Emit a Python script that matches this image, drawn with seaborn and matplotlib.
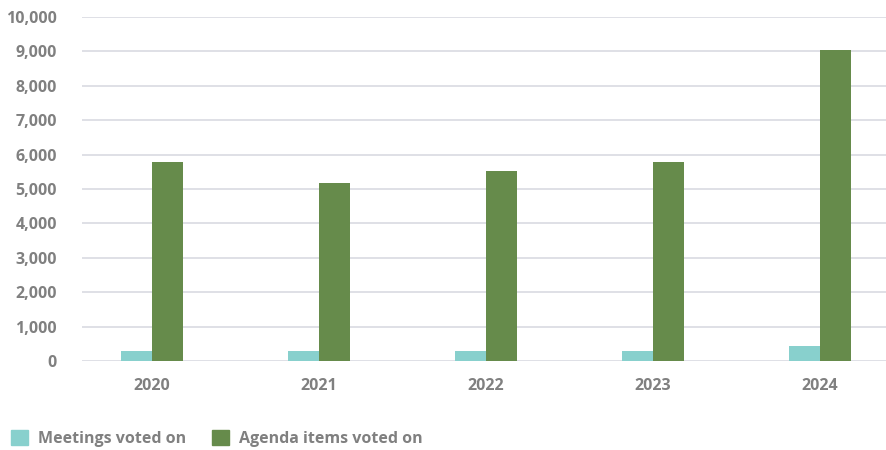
import matplotlib.pyplot as plt
import pandas as pd
import seaborn as sns
from matplotlib.patches import Patch
from matplotlib.ticker import FuncFormatter

years = ["2020", "2021", "2022", "2023", "2024"]
meetings = [280, 280, 280, 280, 450]
agenda_items = [5790, 5170, 5530, 5790, 9040]
series_names = ["Meetings voted on", "Agenda items voted on"]
colors = ["#88d0cd", "#668b4b"]

df = pd.DataFrame({
    "year": years * 2,
    "value": meetings + agenda_items,
    "series": [series_names[0]] * len(years) + [series_names[1]] * len(years),
})

sns.set_theme(style="white")
plt.rcParams["font.family"] = ["Open Sans", "DejaVu Sans"]

fig = plt.figure(figsize=(8.86, 4.5), dpi=100)
ax = fig.add_axes([82 / 886, 1 - 361 / 450, (886 - 82) / 886, (361 - 17) / 450])

sns.barplot(data=df, x="year", y="value", hue="series", palette=colors,
            width=0.37, saturation=1, linewidth=0, ax=ax, legend=False)

ax.set_ylim(0, 10000)
ax.set_xlim(-0.42, 4.395)
ax.set_yticks(range(0, 10001, 1000))
ax.yaxis.set_major_formatter(FuncFormatter(lambda v, _: f"{int(v):,}"))
ax.grid(axis="y", color="#d9dae2", linewidth=1.2)
ax.set_axisbelow(True)
for s in ax.spines.values():
    s.set_visible(False)
ax.tick_params(axis="both", length=0, labelsize=11.5, labelcolor="#808080")
ax.tick_params(axis="y", pad=18)
ax.tick_params(axis="x", pad=12)
for lbl in ax.get_xticklabels() + ax.get_yticklabels():
    lbl.set_fontweight("bold")
ax.set_xlabel("")
ax.set_ylabel("")

handles = [Patch(color=c, label=n) for c, n in zip(colors, series_names)]
fig.legend(handles=handles, loc="lower left", bbox_to_anchor=(-0.004, -0.025), ncol=2,
           frameon=False, handlelength=1.1, handleheight=1.1, handletextpad=0.6,
           columnspacing=1.6, prop={"weight": "bold", "size": 11.5},
           labelcolor="#808080")

fig.savefig("out.png", dpi=100)
